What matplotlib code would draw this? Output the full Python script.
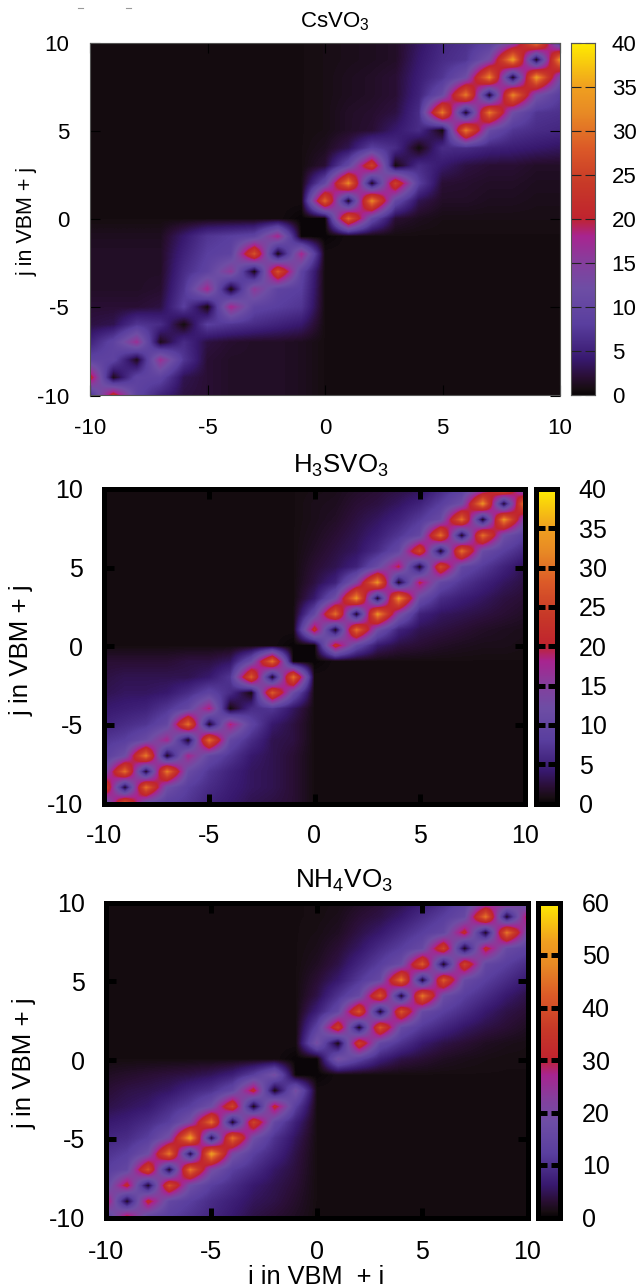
import numpy as np
import matplotlib
matplotlib.use('Agg')
import matplotlib.pyplot as plt
from matplotlib.colors import LinearSegmentedColormap
from matplotlib.lines import Line2D

plt.rcParams['font.family'] = ['Liberation Sans', 'DejaVu Sans']
plt.rcParams['mathtext.default'] = 'regular'
plt.rcParams['axes.unicode_minus'] = False

W, H = 641, 1287

# upper triangle of each map, one row per i, values for j = i .. 10
# (the maps are symmetric in i and j)
cs_rows = [
    [6, 22, 9, 5, 2.5, 2, 1.5, 1.5, 1.5, 1.2] + [0.6] * 11,
    [1, 9, 9, 3, 2, 1.5, 1.5, 1.5, 1.2] + [0.6] * 11,
    [1, 17, 7, 2, 1.5, 1.5, 1.5, 1.2] + [0.6] * 11,
    [1, 6, 2.5, 1.8, 1.5, 1.5, 1.2] + [0.6] * 11,
    [0.5, 8, 7, 6, 5, 4] + [0.6] * 11,
    [0.5, 18, 9, 8, 7] + [0.6] * 11,
    [0.5, 16, 9, 8] + [0.6] * 11,
    [0.5, 27, 9] + [0.6] * 11,
    [0.5, 18] + [0.6] * 11,
    [0] + [0, 0.6, 0.6, 0.6, 0.6, 0.6, 0.6, 0.6, 0.6, 0.6, 0.6],
    [0, 29, 10, 2, 1.2, 0.8, 0.8, 0.8, 0.8, 0.8, 0.8],
    [1, 32, 10, 3, 1.5, 1.5, 1.2, 1.2, 1, 1],
    [1, 25, 8, 2, 1.8, 1.5, 1.5, 1.2, 1.2],
    [0.5, 6, 4, 2.5, 2, 2, 1.5, 1.5],
    [0.5, 6, 6, 5, 4.5, 4, 3.5],
    [0.5, 31, 11, 7, 6, 5.5],
    [1, 31, 12, 7, 6.5],
    [1, 32, 13, 8],
    [1, 34, 13],
    [1, 33],
    [6],
]
h3s_rows = [
    [8, 28, 11, 8, 7, 5, 4, 3, 2.5, 2] + [0.6] * 11,
    [1.5, 30, 12, 8, 6, 4.5, 3.5, 3, 2] + [0.6] * 11,
    [1.5, 31, 11, 7, 5, 3.5, 3, 2] + [0.6] * 11,
    [1, 18, 10, 7, 4, 3, 2] + [0.6] * 11,
    [1, 30, 10, 6, 3, 2.5] + [0.6] * 11,
    [1, 19, 9, 4, 2.5] + [0.6] * 11,
    [0.5, 6, 7, 3.5] + [0.6] * 11,
    [0.5, 28, 11] + [0.6] * 11,
    [1, 30] + [0.6] * 11,
    [0] + [0, 0.6, 0.6, 0.6, 0.6, 0.6, 0.6, 0.6, 0.6, 0.6, 0.6],
    [0, 22, 10, 4, 2.5, 2, 1.5, 1.2, 1, 1, 0.8],
    [1, 30, 12, 5, 3, 2.5, 2, 1.5, 1.2, 1],
    [1, 33, 14, 5, 3.5, 3, 2.5, 2, 1.5],
    [1.5, 33, 11, 6, 4.5, 3.5, 2.5, 2],
    [1, 20, 10, 7, 5, 3.5, 2.5],
    [1, 26, 10, 7.5, 5, 3],
    [1, 30, 11, 8, 5.5],
    [1, 30, 12, 8],
    [1, 33, 13],
    [1.5, 32],
    [8],
]
nh4_rows = [
    [10, 32, 14, 12, 10, 8, 6, 4, 3, 2] + [0.9] * 11,
    [2, 32, 15, 12, 9, 7, 5, 4, 2.5] + [0.9] * 11,
    [2, 40, 18, 12, 9, 6, 4.5, 3] + [0.9] * 11,
    [2, 46, 20, 12, 9, 5.5, 3.5] + [0.9] * 11,
    [3, 52, 20, 12, 8, 4] + [0.9] * 11,
    [3, 45, 18, 10, 5] + [0.9] * 11,
    [1.5, 38, 15, 7] + [0.9] * 11,
    [1, 32, 12] + [0.9] * 11,
    [1, 20] + [0.9] * 11,
    [0] + [0, 0.9, 0.9, 0.9, 0.9, 0.9, 0.9, 0.9, 0.9, 0.9, 0.9],
    [0, 20, 13, 7, 4, 3, 2, 1.5, 1.2, 1, 1],
    [1, 37, 15, 10, 6, 4, 3, 2, 1.5, 1.2],
    [1.5, 41, 16, 11, 8, 5.5, 4, 3, 2],
    [1.5, 41, 16, 12, 9, 6, 4, 3],
    [2, 46, 17, 12, 9, 6, 4],
    [2, 42, 16, 12, 9, 6],
    [1.5, 38, 15, 12, 9],
    [1.5, 32, 16, 13],
    [1.5, 46, 18],
    [2, 32],
    [10],
]
ticks = [-10, -5, 0, 5, 10]

cmap = LinearSegmentedColormap.from_list('band', [
    (0.0, '#0a0508'), (0.015, '#170d12'), (0.05, '#2a0f35'), (0.1, '#38196f'), (0.2, '#5a3f9f'),
    (0.3, '#6e4ea5'), (0.375, '#853f9d'), (0.45, '#a82590'), (0.5, '#c0242f'),
    (0.6, '#c83a28'), (0.7, '#dc5a28'), (0.8, '#e88a25'), (0.875, '#f0a020'),
    (1.0, '#ffee00'),
])


def sym_matrix(rows):
    m = np.zeros((21, 21))
    for n, row in enumerate(rows):
        m[n:, n] = row
        m[n, n:] = row
    return m


def px_axes(x0, y0, x1, y1):
    return fig.add_axes([x0 / W, 1 - y1 / H, (x1 - x0) / W, (y1 - y0) / H])


def draw_panel(rows, box, cbar_x, vmax, cticks, title, title_xy, ylabel_xy, lw, edge, fs, tfs, lfs, padx, pady, padc):
    x0, y0, x1, y1 = box
    ax = px_axes(x0, y0, x1, y1)
    ax.imshow(sym_matrix(rows), origin='lower', extent=(-10.5, 10.5, -10.5, 10.5),
              cmap=cmap, vmin=0, vmax=vmax, interpolation='bilinear',
              interpolation_stage='data', aspect='auto')
    ax.set_xlim(-10, 10)
    ax.set_ylim(-10, 10)
    ax.set_xticks(ticks)
    ax.set_yticks(ticks)
    ax.tick_params(direction='in', top=True, right=True, length=7, width=lw,
                   color='black', labelsize=fs)
    ax.tick_params(axis='x', pad=padx)
    ax.tick_params(axis='y', pad=pady)
    for s in ax.spines.values():
        s.set_linewidth(lw)
        s.set_color(edge)

    cax = px_axes(cbar_x[0], y0, cbar_x[1], y1)
    grad = np.linspace(0, vmax, 256).reshape(-1, 1)
    cax.imshow(grad, origin='lower', extent=(0, 1, 0, vmax), cmap=cmap,
               vmin=0, vmax=vmax, aspect='auto')
    cax.set_xticks([])
    cax.yaxis.tick_right()
    cax.set_yticks(cticks)
    cax.tick_params(axis='y', direction='in', left=True, right=True, length=(cbar_x[1] - cbar_x[0]) * 0.3,
                    width=lw, color='#222222' if lw < 2 else 'black', labelsize=fs, pad=padc)
    for s in cax.spines.values():
        s.set_linewidth(lw)
        s.set_color(edge)

    fig.text(title_xy[0] / W, 1 - title_xy[1] / H, title, ha='center', va='center', fontsize=tfs)
    fig.text(ylabel_xy[0] / W, 1 - ylabel_xy[1] / H, 'j in VBM + j', rotation=90,
             ha='center', va='center', fontsize=lfs)
    return ax


fig = plt.figure(figsize=(W / 100, H / 100), dpi=100)

draw_panel(cs_rows, (90, 43, 560, 395.5), (571, 595), 40, [0, 5, 10, 15, 20, 25, 30, 35, 40],
           'CsVO$_3$', (335, 22), (27, 221), 0.8, '#555555', 16, 16, 15.5, 16, 15, 12)
draw_panel(h3s_rows, (104, 489, 525, 803.5), (535.5, 556.5), 40, [0, 5, 10, 15, 20, 25, 30, 35, 40],
           'H$_3$SVO$_3$', (341, 466), (22, 650), 3.6, 'black', 18, 18.6, 18.6, 15, 15, 16)
draw_panel(nh4_rows, (105.7, 902.5, 527.5, 1217.5), (538, 559.5), 60, [0, 10, 20, 30, 40, 50, 60],
           'NH$_4$VO$_3$', (344, 881), (25, 1063), 3.6, 'black', 18, 18.8, 18.6, 16, 15, 16)
fig.text(316 / W, 1 - 1277 / H, 'i in VBM  + i', ha='center', va='center', fontsize=18.3)

# small scan marks above the first panel
for xa, xb in [(78, 83), (126, 131)]:
    fig.add_artist(Line2D([xa / W, xb / W], [1 - 8 / H, 1 - 8 / H], color='#999999', lw=0.8))

fig.savefig('out.png', dpi=100)
